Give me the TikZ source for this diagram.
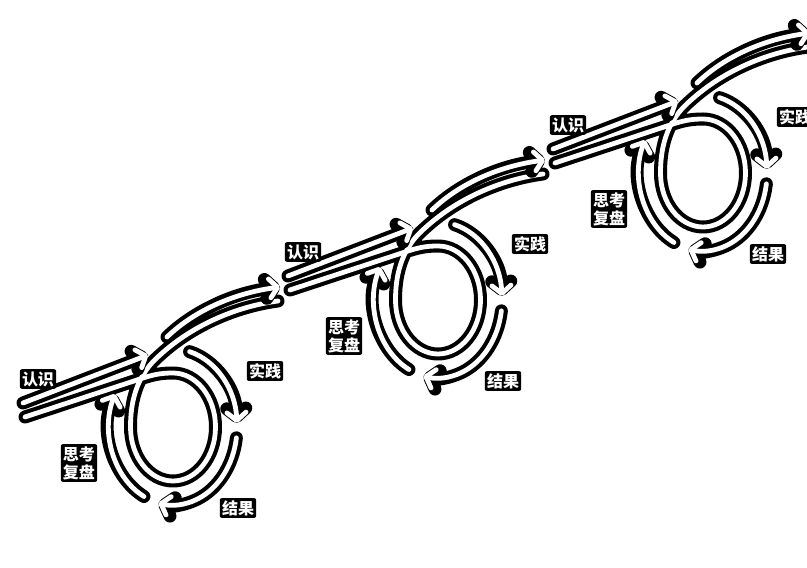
\documentclass[tikz,border=0pt]{standalone}
\usepackage{fontspec}
\newfontfamily\cjk{Noto Sans CJK SC}
\usetikzlibrary{arrows.meta}

\tikzset{
  band/.style={white, line width=4.8pt, line cap=round, line join=round,
    preaction={draw=black, line width=13pt, line cap=round, line join=round}},
  flow/.style={band, -{Straight Barb[length=8pt, width=19pt, round]}},
  tag/.style={fill=black, text=white, font={\cjk\bfseries\fontsize{16}{18}\selectfont},
    inner sep=2.2pt, rounded corners=2pt, align=center}
}

\begin{document}
\begin{tikzpicture}[x=1pt, y=1pt]
  \useasboundingbox (0,0) rectangle (807,568);
  \fill[white] (0,0) rectangle (807,568);
  \clip (0,0) rectangle (807,568);
  \foreach \i in {0,1,2}{
    \begin{scope}[shift={(173+265*\i,141+127*\i)}]
      % road: in, round the loop, out
      \draw[band] (-148,10) -- (-33,48) .. controls (-21,52) and (-13,54) .. (0,54)
        arc[start angle=90, end angle=-180, x radius=42.5, y radius=54]
        .. controls (-42.5,39) and (-28,59) .. (-13,72)
        .. controls (22,104) and (67,121) .. (105,126);
      % arrows along the road
      \draw[flow] (-150,24) -- (-25,72);
      \draw[flow] (-6,90) .. controls (22,117) and (62,134) .. (107,140);
      % arrows round the loop
      \draw[flow] (75:64 and 78) arc[start angle=75, end angle=3, x radius=64, y radius=78];
      \draw[flow] (-8:64 and 78) arc[start angle=-8, end angle=-103, x radius=64, y radius=78];
      \draw[flow] (-117:64 and 78) arc[start angle=-117, end angle=-205, x radius=64, y radius=78];
      % labels
      \node[tag] (see\i) at (-135,48) {认识};
      \node[tag] (act\i) at (92,56) {实践};
      \node[tag] (out\i) at (65,-81) {结果};
      \node[tag] (review\i) at (-94,-36) {思考\\复盘};
    \end{scope}
  }
\end{tikzpicture}
\end{document}
